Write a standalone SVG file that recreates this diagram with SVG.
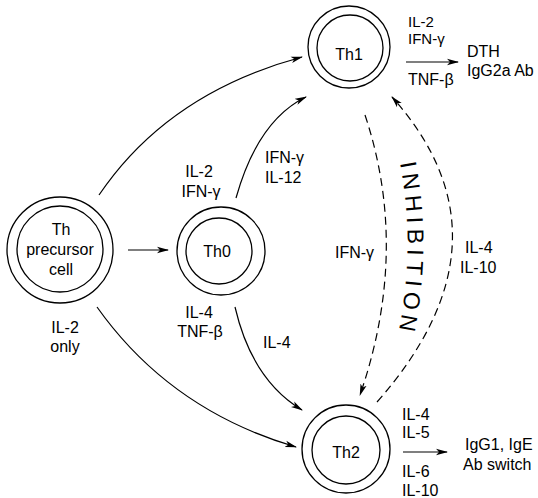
<svg xmlns="http://www.w3.org/2000/svg" width="538" height="498" viewBox="0 0 538 498">
<style>
.c{fill:none;stroke:#000;stroke-width:1.3}
.l{fill:none;stroke:#000;stroke-width:1.2}
.d{fill:none;stroke:#000;stroke-width:1.2;stroke-dasharray:8 5}
text{font-family:"Liberation Sans",Arial,sans-serif;font-size:16px;fill:#000}
.m{text-anchor:middle}
.s{font-size:15px}
</style>
<defs>
<marker id="a" viewBox="0 0 12 8" refX="11" refY="4" markerWidth="12" markerHeight="8" markerUnits="userSpaceOnUse" orient="auto">
<path d="M0,0.8 L12,4 L0,7.2 L3,4 Z" fill="#000"/>
</marker>
<path id="ip" d="M400,163 Q416,247 398,335"/>
</defs>
<rect width="538" height="498" fill="#fff"/>
<g id="connectors">
<path class="l" d="M128,250 L168,250" marker-end="url(#a)"/>
<path class="l" d="M99,195 Q168,93 302,57" marker-end="url(#a)"/>
<path class="l" d="M236,198 Q258,120 306,97" marker-end="url(#a)"/>
<path class="l" d="M97,307 Q170,410 296,447" marker-end="url(#a)"/>
<path class="l" d="M235,307 Q252,380 302,410" marker-end="url(#a)"/>
<path class="d" d="M365,115 Q410,250 360,395" marker-end="url(#a)"/>
<path class="d" d="M377,402 Q520,240 392,97" marker-end="url(#a)"/>
<path class="l" d="M406,62 L458,62" marker-end="url(#a)"/>
<path class="l" d="M403,452 L447,452" marker-end="url(#a)"/>
</g>
<g id="precursor">
<circle class="c" cx="60" cy="250" r="53"/>
<circle class="c" cx="60" cy="249" r="43"/>
<text class="m" x="61" y="235">Th</text>
<text class="m" x="60" y="255">precursor</text>
<text class="m" x="61" y="275">cell</text>
</g>
<g id="th0">
<circle class="c" cx="221" cy="251" r="44"/>
<circle class="c" cx="219" cy="251" r="33"/>
<text class="m" x="217" y="257">Th0</text>
</g>
<g id="th1">
<circle class="c" cx="349" cy="47" r="41"/>
<circle class="c" cx="350" cy="48" r="33"/>
<text class="m" x="349" y="60">Th1</text>
</g>
<g id="th2">
<circle class="c" cx="346" cy="449" r="44"/>
<circle class="c" cx="346" cy="450" r="34"/>
<text class="m" x="346" y="458">Th2</text>
</g>
<g id="labels">
<text class="s" x="408" y="27">IL-2</text>
<text class="s" x="408" y="44">IFN-γ</text>
<text x="408" y="85">TNF-β</text>
<text x="467" y="57">DTH</text>
<text x="467" y="76">IgG2a Ab</text>
<text class="m" x="199" y="177">IL-2</text>
<text class="m" x="201" y="197">IFN-γ</text>
<text x="265" y="163">IFN-γ</text>
<text x="265" y="183">IL-12</text>
<text class="m" x="199" y="318">IL-4</text>
<text class="m" x="200" y="337">TNF-β</text>
<text x="263" y="348">IL-4</text>
<text class="m" x="65" y="333">IL-2</text>
<text class="m" x="65" y="352">only</text>
<text x="335" y="258">IFN-γ</text>
<text x="465" y="253">IL-4</text>
<text x="460" y="273">IL-10</text>
<text x="402" y="420">IL-4</text>
<text x="402" y="438">IL-5</text>
<text x="402" y="477">IL-6</text>
<text x="402" y="496">IL-10</text>
<text x="465" y="450">IgG1, IgE</text>
<text x="463" y="470">Ab switch</text>
<text style="font-size:23px" letter-spacing="2"><textPath href="#ip" textLength="170" lengthAdjust="spacing">INHIBITION</textPath></text>
</g>
</svg>
